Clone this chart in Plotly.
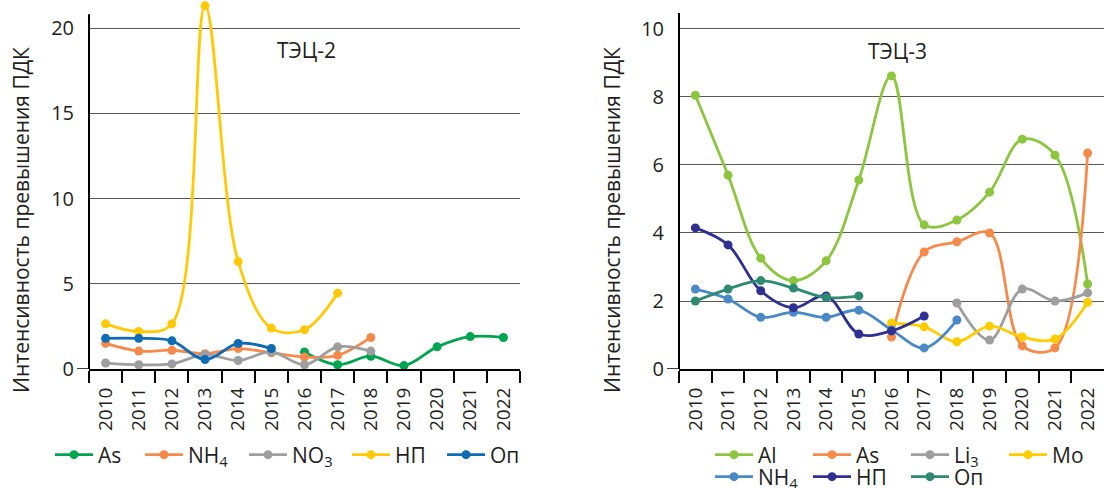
import plotly.graph_objects as go

years = [str(y) for y in range(2010, 2023)]

# ТЭЦ-2 (values per year, None where not measured)
t2_as  = [None, None, None, None, None, None, 1.0, 0.25, 0.75, 0.2, 1.3, 1.9, 1.85]
t2_nh4 = [1.5, 1.05, 1.1, 0.9, 1.2, 0.95, 0.7, 0.8, 1.85, None, None, None, None]
t2_no3 = [0.35, 0.25, 0.3, 0.85, 0.5, 1.0, 0.25, 1.3, 1.05, None, None, None, None]
t2_np  = [2.65, 2.2, 2.65, 21.3, 6.3, 2.4, 2.3, 4.45, None, None, None, None, None]
t2_op  = [1.8, 1.8, 1.65, 0.55, 1.5, 1.2, None, None, None, None, None, None, None]

# ТЭЦ-3
t3_al  = [8.05, 5.7, 3.26, 2.6, 3.18, 5.56, 8.62, 4.24, 4.38, 5.2, 6.76, 6.29, 2.5]
t3_as  = [None, None, None, None, None, None, 0.94, 3.44, 3.74, 4.0, 0.68, 0.62, 6.35]
t3_li3 = [None, None, None, None, None, None, None, None, 1.94, 0.85, 2.35, 2.0, 2.24]
t3_mo  = [None, None, None, None, None, None, 1.35, 1.24, 0.8, 1.26, 0.94, 0.88, 1.96]
t3_nh4 = [2.35, 2.06, 1.52, 1.67, 1.52, 1.73, 1.15, 0.62, 1.44, None, None, None, None]
t3_np  = [4.15, 3.65, 2.3, 1.8, 2.15, 1.03, 1.12, 1.56, None, None, None, None, None]
t3_op  = [2.0, 2.35, 2.6, 2.38, 2.1, 2.15, None, None, None, None, None, None, None]

FONT = "Open Sans"
TXT = "#231F20"
Y_TITLE = "Интенсивность превышения ПДК"

left_series = [
    ("As", t2_as, "#00A550", 37),
    ("NH<sub>4</sub>", t2_nh4, "#F58A4B", 51),
    ("NO<sub>3</sub>", t2_no3, "#9E9E9E", 50),
    ("НП", t2_np, "#FFC907", 42),
    ("Оп", t2_op, "#0E6BB6", 32),
]
right_series = [
    ("Al", t3_al, "#8CC63E", "legend2"),
    ("As", t3_as, "#F58A4B", "legend2"),
    ("Li<sub>3</sub>", t3_li3, "#9E9E9E", "legend2"),
    ("Mo", t3_mo, "#FFCC00", "legend2"),
    ("NH<sub>4</sub>", t3_nh4, "#4A89C8", "legend3"),
    ("НП", t3_np, "#2E3192", "legend3"),
    ("Оп", t3_op, "#2F8A72", "legend3"),
]

fig = go.Figure()

for name, vals, color, lw in left_series:
    fig.add_trace(go.Scatter(
        x=years, y=vals, name=name, mode="lines+markers",
        line=dict(color=color, width=2.8, shape="spline", smoothing=1.0),
        marker=dict(color=color, size=9),
        xaxis="x", yaxis="y", legend="legend", legendwidth=lw,
        connectgaps=False,
    ))

for name, vals, color, lg in right_series:
    fig.add_trace(go.Scatter(
        x=years, y=vals, name=name, mode="lines+markers",
        line=dict(color=color, width=2.8, shape="spline", smoothing=1.0),
        marker=dict(color=color, size=9),
        xaxis="x2", yaxis="y2", legend=lg,
        connectgaps=False,
    ))

W, H = 1106, 488
y_bottom = 1 - 369 / H

xaxis_common = dict(
    type="category", categoryorder="array", categoryarray=years,
    range=[-0.5, 12.5], tickangle=-90, tickson="boundaries",
    ticks="outside", ticklen=12, tickwidth=1.5, tickcolor="#000",
    showline=True, linecolor="#000", linewidth=2,
    showgrid=False, zeroline=False, automargin=False,
    ticklabelstandoff=9,
    tickfont=dict(family=FONT, size=19, color=TXT),
    fixedrange=True,
)
yaxis_common = dict(
    showline=False, zeroline=False, ticks="", automargin=False,
    showgrid=True, gridcolor="#595959", gridwidth=1.3,
    tickfont=dict(family=FONT, size=20, color=TXT),
    ticklabelstandoff=14,
    fixedrange=True,
)
leg_common = dict(
    orientation="h", xanchor="left", yanchor="middle",
    font=dict(family=FONT, size=21, color=TXT),
    bgcolor="rgba(0,0,0,0)", itemwidth=38,
)

fig.update_layout(
    width=W, height=H,
    margin=dict(l=0, r=0, t=0, b=0, autoexpand=False),
    paper_bgcolor="white", plot_bgcolor="white",
    font=dict(family=FONT, color=TXT),
    xaxis=dict(domain=[89 / W, 520 / W], anchor="y", **xaxis_common),
    yaxis=dict(domain=[y_bottom, 1.0], anchor="x", range=[0, 369 / 17.05],
               tickvals=[0, 5, 10, 15, 20], **yaxis_common),
    xaxis2=dict(domain=[679 / W, 1104 / W], anchor="y2", **xaxis_common),
    yaxis2=dict(domain=[y_bottom, 1 - 13 / H], anchor="x2", range=[0, 10.47],
                tickvals=[0, 2, 4, 6, 8, 10], **yaxis_common),
    legend=dict(x=50 / W, y=1 - 455 / H, **leg_common),
    legend2=dict(x=710 / W, y=1 - 455 / H, entrywidth=45, **leg_common),
    legend3=dict(x=710 / W, y=1 - 477 / H, entrywidth=45, **leg_common),
    annotations=[
        dict(text="ТЭЦ-2", x=306 / W, y=1 - 50 / H, xref="paper", yref="paper",
             xanchor="center", yanchor="middle", showarrow=False,
             font=dict(family=FONT, size=21, color=TXT)),
        dict(text="ТЭЦ-3", x=897 / W, y=1 - 51 / H, xref="paper", yref="paper",
             xanchor="center", yanchor="middle", showarrow=False,
             font=dict(family=FONT, size=21, color=TXT)),
        dict(text=Y_TITLE, x=21 / W, y=1 - 220 / H, xref="paper", yref="paper",
             xanchor="center", yanchor="middle", textangle=-90, showarrow=False,
             font=dict(family=FONT, size=21, color=TXT)),
        dict(text=Y_TITLE, x=612 / W, y=1 - 220 / H, xref="paper", yref="paper",
             xanchor="center", yanchor="middle", textangle=-90, showarrow=False,
             font=dict(family=FONT, size=21, color=TXT)),
    ],
    shapes=[
        # vertical axis line of the left panel, up to the top of its scale
        dict(type="line", xref="x domain", yref="y", x0=0, x1=0, y0=0, y1=20.8,
             line=dict(color="#000", width=2)),
        # vertical axis line of the right panel
        dict(type="line", xref="x2 domain", yref="y2", x0=0, x1=0, y0=0, y1=10.47,
             line=dict(color="#000", width=2)),
        # short stubs to the left of the zero line
        dict(type="line", xref="x domain", yref="y", xsizemode="pixel", xanchor=0,
             x0=-12, x1=0, y0=0, y1=0, line=dict(color="#000", width=1.5)),
        dict(type="line", xref="x2 domain", yref="y2", xsizemode="pixel", xanchor=0,
             x0=-12, x1=0, y0=0, y1=0, line=dict(color="#000", width=1.5)),
    ],
)

fig.write_html("out.html")
